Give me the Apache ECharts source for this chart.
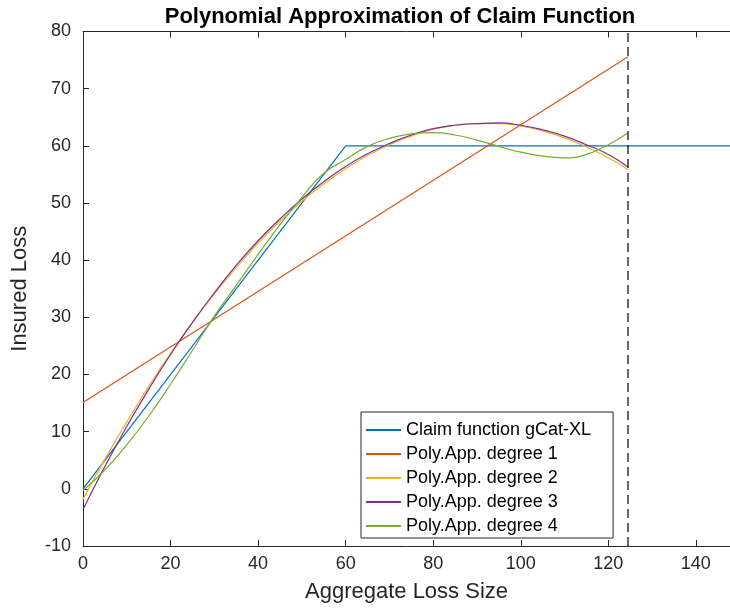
<!DOCTYPE html>
<html>
<head>
<meta charset="utf-8">
<script src="https://cdn.jsdelivr.net/npm/echarts@6/dist/echarts.min.js"></script>
<style>
  html, body { margin: 0; padding: 0; background: #fff; }
  #chart { width: 730px; height: 608px; }
</style>
</head>
<body>
<div id="chart"></div>
<script>

// values
var polyX = [0, 5, 10, 15, 20, 25, 30, 35, 40, 45, 50, 55, 60, 65, 70, 75, 80, 85, 90, 95, 100, 105, 110, 115, 120, 124.5];
var deg2Y = [-1.8, 5.2, 11.7, 17.9, 23.7, 29.1, 34.1, 38.7, 43.0, 46.8, 50.3, 53.3, 56.0, 58.3, 60.2, 61.7, 62.9, 63.6, 63.9, 63.9, 63.5, 62.6, 61.4, 59.8, 57.9, 55.8];
var deg3Y = [-3.6, 3.9, 10.9, 17.4, 23.5, 29.1, 34.3, 39.1, 43.4, 47.2, 50.7, 53.7, 56.4, 58.6, 60.4, 61.9, 63.0, 63.6, 63.9, 64.0, 63.6, 62.8, 61.7, 60.2, 58.5, 56.3];
var deg4Y = [-0.3, 3.3, 7.7, 12.7, 18.3, 24.2, 30.2, 35.6, 41.0, 46.2, 51.0, 55.2, 57.6, 59.9, 61.3, 62.1, 62.3, 61.9, 61.0, 59.9, 58.9, 58.2, 57.9, 58.5, 60.2, 62.3];

var claimX = [0, 60, 150];
var claimY = [0, 60, 60];
var deg1X = [0, 124.5];
var deg1Y = [15.1, 75.6];
var cutX = 124.5;

// the picture is cut off on the right, so the visible x range ends short of 150
var xMax = 147.8;

var names = ['Claim function gCat-XL', 'Poly.App. degree 1', 'Poly.App. degree 2', 'Poly.App. degree 3', 'Poly.App. degree 4'];
var colors = ['#0072BD', '#D95319', '#EDB120', '#7E2F8E', '#77AC30'];

function pairs(xs, ys) {
	var out = [];
	for (var i = 0; i < xs.length; i++) {
		out.push([xs[i], ys[i]]);
	}
	return out;
}

var myChart = echarts.init(document.getElementById('chart'));

var axisColor = '#262626';
var font = 'Liberation Sans, Arial, Helvetica, sans-serif';

function lineSeries(name, data, color, smooth) {
	return {
		name: name,
		type: 'line',
		data: data,
		symbol: 'none',
		smooth: smooth,
		lineStyle: { color: color, width: 1.2 },
		itemStyle: { color: color },
		z: 3
	};
}

var option = {
	animation: false,
	backgroundColor: '#ffffff',
	title: {
		text: 'Polynomial Approximation of Claim Function',
		left: 395,
		top: 1,
		textAlign: 'center',
		textStyle: { fontFamily: font, fontSize: 22, fontWeight: 'bold', color: '#000' }
	},
	legend: {
		orient: 'vertical',
		left: 361,
		top: 412,
		padding: [8, 22, 2, 5],
		itemGap: 4,
		itemWidth: 35,
		itemHeight: 2,
		icon: 'rect',
		backgroundColor: '#ffffff',
		borderColor: axisColor,
		borderWidth: 1,
		borderRadius: 0,
		data: names,
		textStyle: { fontFamily: font, fontSize: 18, color: '#000', lineHeight: 20 }
	},
	grid: {
		left: 83,
		top: 31.5,
		right: 0,
		bottom: 62,
		containLabel: false
	},
	xAxis: [
		{
			type: 'value',
			min: 0,
			max: xMax,
			interval: 20,
			name: 'Aggregate Loss Size',
			nameLocation: 'middle',
			nameGap: 35,
			nameTextStyle: { fontFamily: font, fontSize: 22, color: axisColor },
			axisLine: { show: true, onZero: false, lineStyle: { color: axisColor, width: 1 } },
			axisTick: { inside: true, length: 6, lineStyle: { color: axisColor } },
			axisLabel: {
				fontFamily: font, fontSize: 18, color: axisColor, margin: 9,
				showMaxLabel: false,
				formatter: function (v) { return v > 140 ? '' : v; }
			},
			splitLine: { show: false }
		},
		{
			type: 'value',
			position: 'top',
			min: 0,
			max: xMax,
			interval: 20,
			axisLine: { show: true, onZero: false, lineStyle: { color: axisColor, width: 1 } },
			axisTick: { show: true, inside: true, length: 6, lineStyle: { color: axisColor } },
			axisLabel: { show: false },
			splitLine: { show: false }
		}
	],
	yAxis: {
		type: 'value',
		min: -10,
		max: 80,
		interval: 10,
		name: 'Insured Loss',
		nameLocation: 'middle',
		nameGap: 52,
		nameTextStyle: { fontFamily: font, fontSize: 22, color: axisColor },
		axisLine: { show: true, onZero: false, lineStyle: { color: axisColor, width: 1 } },
		axisTick: { show: true, inside: true, length: 6, lineStyle: { color: axisColor } },
		axisLabel: { fontFamily: font, fontSize: 18, color: axisColor, margin: 12 },
		splitLine: { show: false }
	},
	series: [
		lineSeries(names[0], pairs(claimX, claimY), colors[0], false),
		lineSeries(names[1], pairs(deg1X, deg1Y), colors[1], false),
		lineSeries(names[2], pairs(polyX, deg2Y), colors[2], true),
		lineSeries(names[3], pairs(polyX, deg3Y), colors[3], true),
		lineSeries(names[4], pairs(polyX, deg4Y), colors[4], true),
		{
			name: 'cut',
			type: 'line',
			data: [[cutX, -10], [cutX, 80]],
			symbol: 'none',
			lineStyle: { color: '#000000', width: 1.2, type: [9, 5] },
			z: 4
		}
	]
};

// show the Chart
myChart.setOption(option);

</script>
</body>
</html>
